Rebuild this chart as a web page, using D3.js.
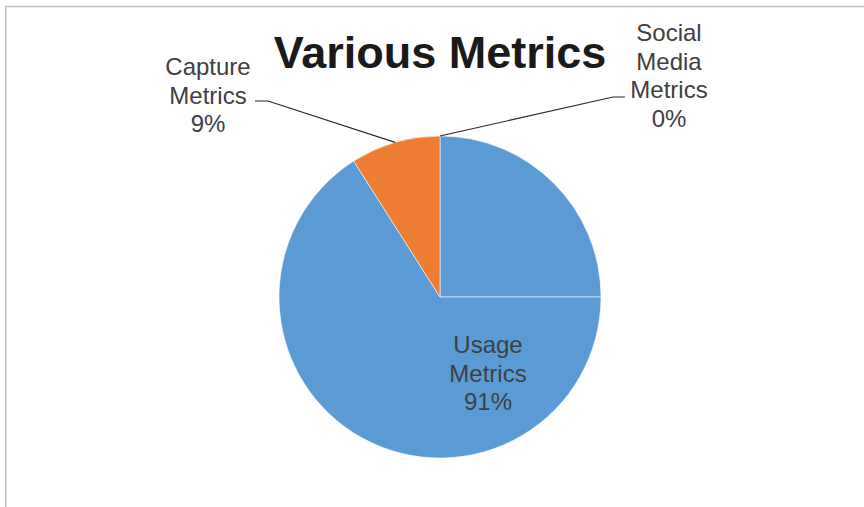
<!DOCTYPE html>
<html>
<head>
<meta charset="utf-8">
<script src="https://cdn.jsdelivr.net/npm/d3@7/dist/d3.min.js"></script>
<style>
  html, body { margin: 0; padding: 0; background: #fff; }
  svg { display: block; }
  text { font-family: "Liberation Sans", Arial, sans-serif; }
</style>
</head>
<body>
<svg id="chart" width="864" height="507"></svg>
<script>
// Share of each metric group (percent)
const categories = ["Usage Metrics", "Capture Metrics", "Social Media Metrics"];
const values = [91, 9, 0];
const colors = ["#5B9BD5", "#ED7D31", "#A5A5A5"];
// Label lines shown beside each slice
const labelLines = [
  ["Usage", "Metrics", "91%"],
  ["Capture", "Metrics", "9%"],
  ["Social", "Media", "Metrics", "0%"]
];

const W = 864, H = 507;
const cx = 440, cy = 297, R = 161;

const svg = d3.select("#chart");

// chart area frame (left and top edges visible)
svg.append("path")
  .attr("d", `M5.75,${H} L5.75,6.5 L${W},6.5`)
  .attr("fill", "none")
  .attr("stroke", "#bfbfbf")
  .attr("stroke-width", 1.5);

const pie = d3.pie().sort(null).value(d => d);
const arcs = pie(values);
const arc = d3.arc().innerRadius(0).outerRadius(R);
const leaderArc = d3.arc().innerRadius(R).outerRadius(R);

const g = svg.append("g").attr("transform", `translate(${cx},${cy})`);

// slices; the large slice is rendered in two pieces split at the quarter turn
arcs.forEach((a, i) => {
  if (a.endAngle - a.startAngle <= 0) return;
  const pieces = [];
  if (a.startAngle < Math.PI / 2 && a.endAngle > Math.PI / 2) {
    pieces.push({ startAngle: a.startAngle, endAngle: Math.PI / 2 });
    pieces.push({ startAngle: Math.PI / 2, endAngle: a.endAngle });
  } else {
    pieces.push({ startAngle: a.startAngle, endAngle: a.endAngle });
  }
  pieces.forEach(p => {
    g.append("path")
      .attr("d", arc(p))
      .attr("fill", colors[i])
      .attr("stroke", "rgba(255,255,255,0.55)")
      .attr("stroke-width", 1)
      .attr("stroke-linejoin", "round");
  });
});

// edge point of a slice used for leader lines
function edgePoint(a, frac) {
  const ang = a.startAngle + (a.endAngle - a.startAngle) * frac;
  return [cx + R * Math.sin(ang), cy - R * Math.cos(ang)];
}

const labelColor = "#404040";
const fontSize = 24, lineH = 28.5;

// label anchor centres (x, first-line centre y)
const labelPos = [
  { x: 488, y: 345 },
  { x: 208, y: 67 },
  { x: 669, y: 33 }
];

labelLines.forEach((lines, i) => {
  const t = svg.append("text")
    .attr("text-anchor", "middle")
    .attr("fill", labelColor)
    .attr("font-size", fontSize);
  lines.forEach((ln, k) => {
    t.append("tspan")
      .attr("x", labelPos[i].x)
      .attr("y", labelPos[i].y + k * lineH)
      .attr("dy", "0.35em")
      .text(ln);
  });
});

// leader lines from outside labels to slice edges
const leaders = [
  { i: 1, from: [255, 101], elbow: [268, 101], frac: 0.5 },
  { i: 2, from: [625, 97], elbow: [613, 97], frac: 0.5 }
];
leaders.forEach(l => {
  const p = edgePoint(arcs[l.i], l.frac);
  svg.append("polyline")
    .attr("points", [l.from, l.elbow, p].map(q => q.join(",")).join(" "))
    .attr("fill", "none")
    .attr("stroke", "#262626")
    .attr("stroke-width", 1.1);
});

// title
svg.append("text")
  .attr("x", 440)
  .attr("y", 68)
  .attr("text-anchor", "middle")
  .attr("font-size", 45)
  .attr("font-weight", "bold")
  .attr("fill", "#1a1a1a")
  .text("Various Metrics");
</script>
</body>
</html>
